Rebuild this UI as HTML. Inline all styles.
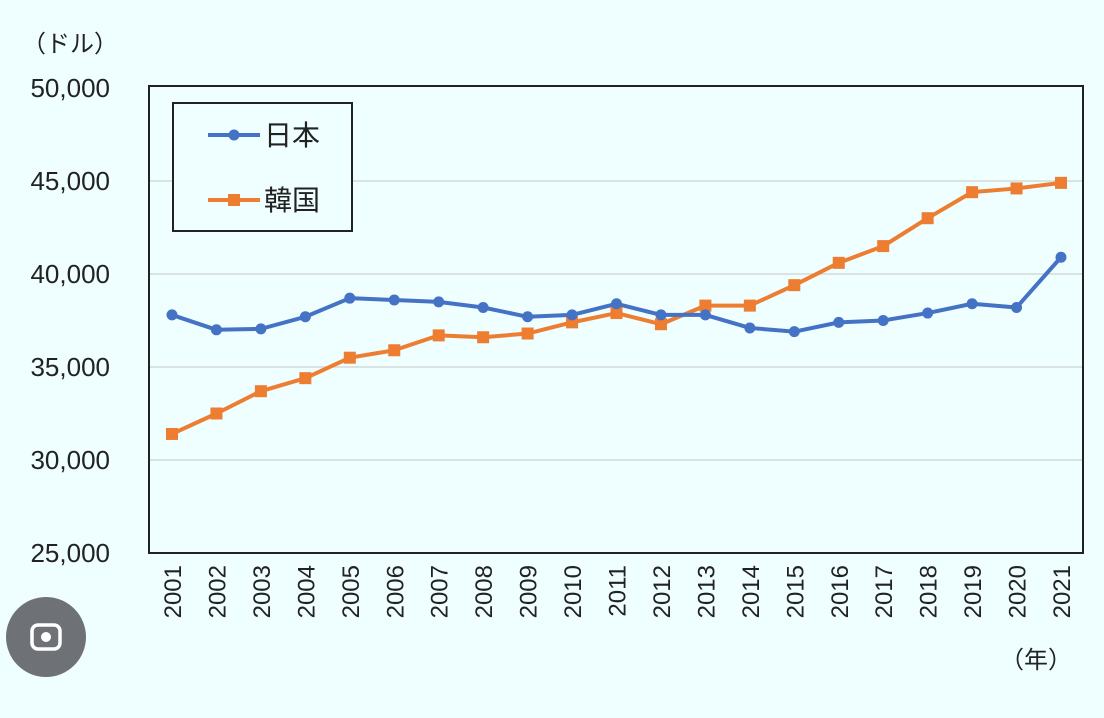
<!DOCTYPE html>
<html><head><meta charset="utf-8"><style>
html,body{margin:0;padding:0;background:#effefe;}
svg{display:block;font-family:"Liberation Sans","Noto Sans CJK JP",sans-serif;}
</style></head><body>
<svg id="chart" width="1104" height="718" viewBox="0 0 1104 718">
<rect x="0" y="0" width="1104" height="718" fill="#effefe"/>
<text x="70" y="52" font-size="24" fill="#222" text-anchor="middle">（ドル）</text>
<g id="grid"></g>
<g id="yticks"></g>
<g id="xticks"></g>
<rect x="149" y="86" width="934" height="467" fill="none" stroke="#222" stroke-width="2"/>
<g id="series"></g>
<text x="1036" y="668" font-size="24" fill="#222" text-anchor="middle">（年）</text>
<g>
<rect x="173" y="103" width="179" height="128" fill="#effefe" stroke="#222" stroke-width="2"/>
<g>
<line x1="208" y1="135" x2="260" y2="135" stroke="#4472c4" stroke-width="4"/>
<circle cx="234" cy="135" r="5.5" fill="#4472c4"/>
<text x="264" y="145" font-size="28" fill="#222">日本</text>
</g>
<g>
<line x1="208" y1="200" x2="260" y2="200" stroke="#ed7d31" stroke-width="4"/>
<rect x="228" y="194" width="12" height="12" fill="#ed7d31"/>
<text x="264" y="210" font-size="28" fill="#222">韓国</text>
</g>
</g>
<g>
<circle cx="46" cy="637" r="40" fill="#5f6368" opacity="0.9"/>
<rect x="32" y="625" width="28" height="24" rx="6" fill="none" stroke="#fff" stroke-width="3.5"/>
<circle cx="46" cy="637" r="5" fill="#fff"/>
</g>
</svg>
<script>
const years = ["2001","2002","2003","2004","2005","2006","2007","2008","2009","2010","2011","2012","2013","2014","2015","2016","2017","2018","2019","2020","2021"];
const japan = [37800,37000,37050,37700,38700,38600,38500,38200,37700,37800,38400,37800,37800,37100,36900,37400,37500,37900,38400,38200,40900];
const korea = [31400,32500,33700,34400,35500,35900,36700,36600,36800,37400,37900,37300,38300,38300,39400,40600,41500,43000,44400,44600,44900];
const yTicks = [25000,30000,35000,40000,45000,50000];
const yTickLabels = ["25,000","30,000","35,000","40,000","45,000","50,000"];

const NS = "http://www.w3.org/2000/svg";
function yScale(v){ return 553 - (v - 25000) / 25000 * 465; }
function xScale(i){ return 172 + i * (1061 - 172) / (years.length - 1); }
function mk(tag, attrs, parent){ const e = document.createElementNS(NS, tag); for (const k in attrs) e.setAttribute(k, attrs[k]); parent.appendChild(e); return e; }

const grid = document.getElementById('grid'), yt = document.getElementById('yticks'), xt = document.getElementById('xticks'), ser = document.getElementById('series');
yTicks.forEach((v, i) => {
  const y = yScale(v);
  if (v > 25000 && v < 50000) {
    const g = mk('line', {x1:149, x2:1083, y1:y, y2:y, stroke:'#d4d9d9', 'stroke-width':1.5}, grid);
    
    
  }
  const t = mk('text', {x:110, y:y + 9, 'font-size':26, fill:'#222', 'text-anchor':'end'}, yt);
  t.textContent = yTickLabels[i];
  
  
});
years.forEach((yr, i) => {
  const x = xScale(i);
  const t = mk('text', {x:0, y:0, 'font-size':24, fill:'#222', 'text-anchor':'end', transform:`translate(${x + 9},565) rotate(-90)`}, xt);
  t.textContent = yr;
  
  
});
function drawSeries(vals, color, shape, name){
  const g = mk('g', {}, ser);
  
  
  const pts = vals.map((v, i) => xScale(i) + ',' + yScale(v)).join(' ');
  const l = mk('polyline', {points:pts, fill:'none', stroke:color, 'stroke-width':4, 'stroke-linejoin':'round'}, g);
  
  
  vals.forEach((v, i) => {
    const x = xScale(i), y = yScale(v);
    const m = shape === 'circle' ? mk('circle', {cx:x, cy:y, r:5.5, fill:color}, g) : mk('rect', {x:x - 6, y:y - 6, width:12, height:12, fill:color}, g);
    
    
  });
}
drawSeries(korea, '#ed7d31', 'square', 'korea');
drawSeries(japan, '#4472c4', 'circle', 'japan');
</script>
</body></html>
